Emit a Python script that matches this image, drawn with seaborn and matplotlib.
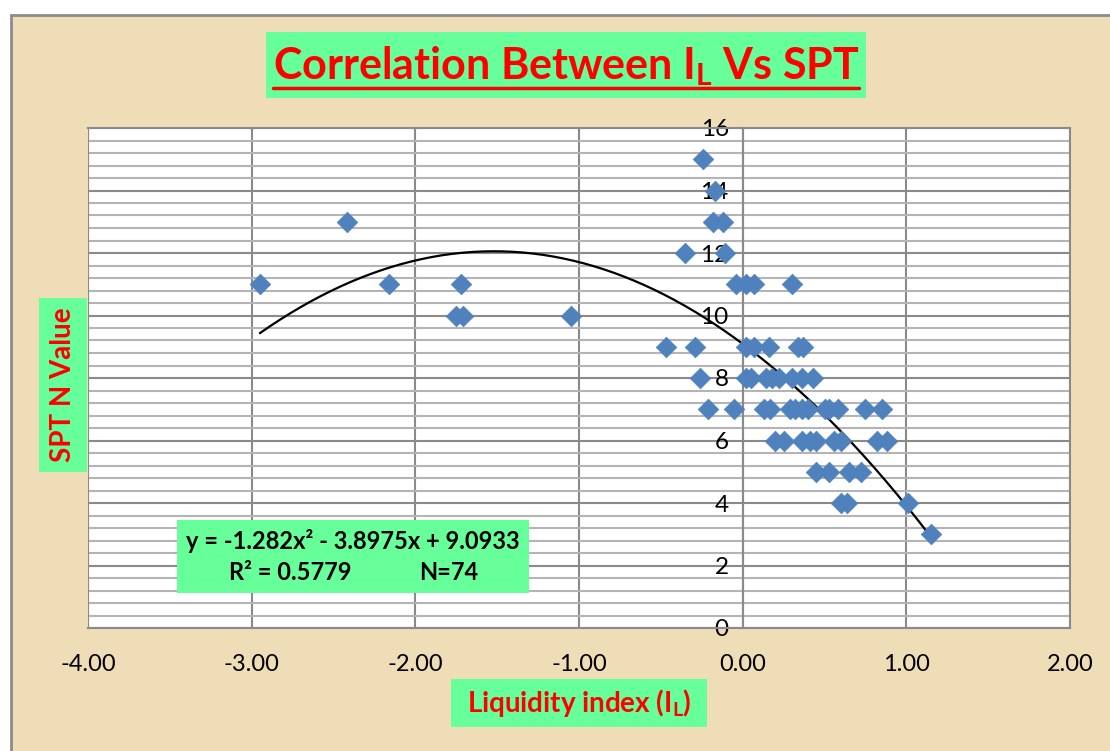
import numpy as np
import pandas as pd
import matplotlib
matplotlib.use("Agg")
import matplotlib.pyplot as plt
import matplotlib.patches as mpatches
from matplotlib.lines import Line2D
from matplotlib.ticker import MultipleLocator, FormatStrFormatter
import seaborn as sns

# liquidity index vs SPT N value
liquidity_index = [
    -2.95, -2.42, -2.16, -1.75, -1.71, -1.72, -1.05,
    -0.24, -0.17, -0.18, -0.12, -0.35, -0.11,
    -0.04, 0.02, 0.07, 0.30,
    -0.47, -0.29, 0.02, 0.07, 0.16, 0.34, 0.37,
    -0.26, 0.02, 0.05, 0.14, 0.18, 0.22, 0.30, 0.36, 0.43,
    -0.21, -0.05, 0.13, 0.17, 0.29, 0.32, 0.36, 0.40, 0.50, 0.53, 0.58, 0.75, 0.85,
    0.20, 0.25, 0.36, 0.41, 0.45, 0.56, 0.60, 0.82, 0.88,
    0.45, 0.53, 0.65, 0.72,
    0.60, 0.64, 1.01,
    1.15,
]
spt_n = [
    11, 13, 11, 10, 10, 11, 10,
    15, 14, 13, 13, 12, 12,
    11, 11, 11, 11,
    9, 9, 9, 9, 9, 9, 9,
    8, 8, 8, 8, 8, 8, 8, 8, 8,
    7, 7, 7, 7, 7, 7, 7, 7, 7, 7, 7, 7, 7,
    6, 6, 6, 6, 6, 6, 6, 6, 6,
    5, 5, 5, 5,
    4, 4, 4,
    3,
]

# excel polynomial trendline (order 2) and the stats box
trend_coef = [-1.282, -3.8975, 9.0933]
r_squared = 0.5779
n_total = 74  # some points overlap on the chart

x_ticks = [-4, -3, -2, -1, 0, 1, 2]
y_ticks = [0, 2, 4, 6, 8, 10, 12, 14, 16]

df = pd.DataFrame({"IL": liquidity_index, "N": spt_n})
xs = np.linspace(min(liquidity_index), max(liquidity_index), 200)
trend = pd.DataFrame({"IL": xs, "N": np.polyval(trend_coef, xs)})

sns.set_style("white")
plt.rcParams["font.family"] = ["Lato", "DejaVu Sans"]
plt.rcParams["mathtext.fontset"] = "custom"
plt.rcParams["mathtext.rm"] = "Lato"
plt.rcParams["mathtext.bf"] = "Lato:bold"

W, H = 1110, 751
fig = plt.figure(figsize=(W / 100, H / 100), dpi=100, facecolor="white")


def fx(px):
    return px / W


def fy(py):
    return 1 - py / H


# parchment-ish background with grey frame
bg = mpatches.Rectangle((fx(11), -0.1), 1.2, fy(15) + 0.1, transform=fig.transFigure,
                        facecolor="#EEDDB6", edgecolor="#8C8C8C", linewidth=2, zorder=-5)
fig.patches.append(bg)

ax = fig.add_axes([fx(88), fy(628), fx(1070) - fx(88), fy(128) - fy(628)])
ax.set_facecolor("white")

sns.lineplot(data=trend, x="IL", y="N", color="black", linewidth=1.6, ax=ax, zorder=3)
sns.scatterplot(data=df, x="IL", y="N", marker="D", s=110, color="#4F81BD",
                edgecolor="#4F81BD", linewidth=0.5, ax=ax, zorder=4)

ax.set_xlim(-4, 2)
ax.set_ylim(0, 16)
ax.yaxis.set_minor_locator(MultipleLocator(0.4))
ax.set_xticks(x_ticks)
ax.set_yticks(y_ticks)
ax.xaxis.set_major_formatter(FormatStrFormatter("%.2f"))

ax.grid(which="major", axis="both", color="#8A8A8A", linewidth=1.5, zorder=0)
ax.grid(which="minor", axis="y", color="#B4B4B4", linewidth=1.5, zorder=0)
ax.set_axisbelow(True)

for side in ["top", "right", "bottom", "left"]:
    ax.spines[side].set_color("#8A8A8A")
    ax.spines[side].set_linewidth(1.5)
ax.spines["left"].set_position(("data", 0))

# frame on the left edge of the plot area (y axis sits at x = 0)
ax.add_line(Line2D([0, 0], [0, 1], transform=ax.transAxes, color="#8A8A8A", linewidth=1.5))

ax.tick_params(axis="x", which="major", direction="out", length=7, width=1.4,
               color="#8A8A8A", labelcolor="black", labelsize=17, pad=12)
ax.tick_params(axis="y", which="major", direction="out", length=6, width=1.4,
               color="#8A8A8A", labelcolor="black", labelsize=17.5, pad=4)
ax.tick_params(axis="y", which="minor", length=0)
ax.set_xlabel("")
ax.set_ylabel("")

green = "#66FF99"
red = "#FF0000"


def box(x0, y0, x1, y1):
    fig.patches.append(mpatches.Rectangle((fx(x0), fy(y1)), fx(x1) - fx(x0), fy(y0) - fy(y1),
                                          transform=fig.transFigure, facecolor=green,
                                          edgecolor="none", zorder=5))


# title
box(266, 32, 866, 98)
title = fig.text(fx(566), fy(66), r"Correlation Between I$_\mathbf{L}$ Vs SPT",
                 ha="center", va="center", fontsize=31, fontweight="bold", color=red, zorder=6)

# axis titles
box(39, 298, 87, 472)
fig.text(fx(63), fy(385), "SPT N Value", rotation=90, ha="center", va="center",
         fontsize=20, fontweight="bold", color=red, zorder=6)
box(451, 679, 707, 727)
fig.text(fx(579), fy(703), r"Liquidity index (I$_\mathbf{L}$)", ha="center", va="center",
         fontsize=20, fontweight="bold", color=red, zorder=6)

# trendline equation
box(177, 520, 529, 593)
eq = "y = {:.3f}x² - {:.4f}x + {:.4f}".format(trend_coef[0], -trend_coef[1], trend_coef[2])
fig.text(fx(353), fy(541), eq, ha="center", va="center", fontsize=17,
         fontweight="bold", color="black", zorder=6)
fig.text(fx(290), fy(572), "R² = {:.4f}".format(r_squared), ha="center", va="center",
         fontsize=17, fontweight="bold", color="black", zorder=6)
fig.text(fx(449), fy(572), "N={}".format(n_total), ha="center", va="center",
         fontsize=17, fontweight="bold", color="black", zorder=6)

# underline the title
fig.canvas.draw()
bb = title.get_window_extent()
fig.add_artist(Line2D([bb.x0 / W, bb.x1 / W], [fy(87.5), fy(87.5)], transform=fig.transFigure,
                      color=red, linewidth=2.5, zorder=7))

fig.savefig("out.png", dpi=100, facecolor=fig.get_facecolor())
